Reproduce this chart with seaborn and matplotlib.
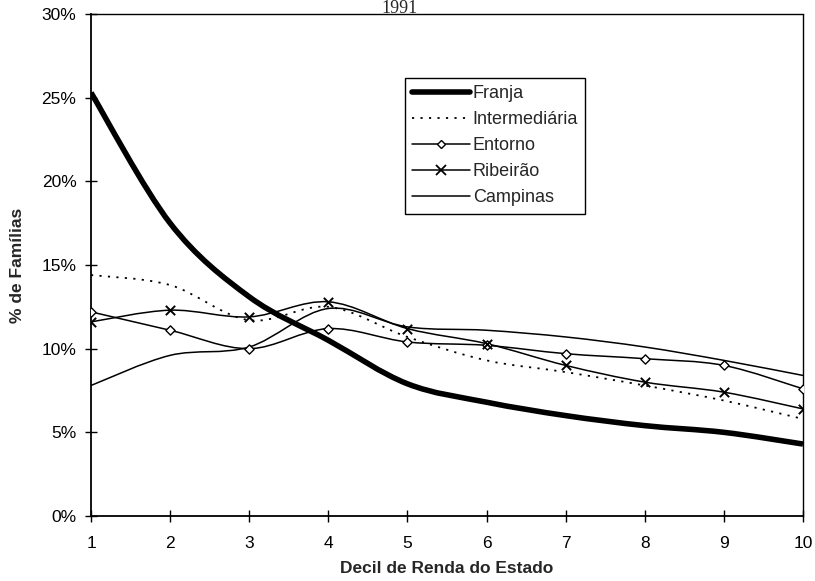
import numpy as np
import matplotlib
matplotlib.use("Agg")
import matplotlib.pyplot as plt
from matplotlib.path import Path
from matplotlib.patches import PathPatch
from matplotlib.lines import Line2D
import seaborn as sns
import pandas as pd

# ---- data (percent of families by state income decile) ----
deciles = [1, 2, 3, 4, 5, 6, 7, 8, 9, 10]
franja = [25.3, 17.5, 13.1, 10.5, 7.9, 6.8, 6.0, 5.4, 5.0, 4.3]
intermediaria = [14.4, 13.8, 11.7, 12.5, 10.7, 9.3, 8.6, 7.8, 6.9, 5.8]
entorno = [12.2, 11.1, 10.0, 11.2, 10.4, 10.2, 9.7, 9.4, 9.0, 7.6]
ribeirao = [11.6, 12.3, 11.9, 12.8, 11.2, 10.3, 9.0, 8.0, 7.4, 6.4]
campinas = [7.8, 9.6, 10.1, 12.4, 11.3, 11.1, 10.7, 10.1, 9.3, 8.4]
series_names = ["Franja", "Intermediária", "Entorno", "Ribeirão", "Campinas"]
yticks = [0, 5, 10, 15, 20, 25, 30]

sns.set_theme(style="white")
plt.rcParams["font.family"] = ["Liberation Sans", "DejaVu Sans"]

fig = plt.figure(figsize=(8.15, 5.81), dpi=100)
ax = fig.add_axes([91 / 815, 65 / 581, 712 / 815, 502 / 581])


def smooth_path(xs, ys):
    pts = np.column_stack([xs, ys]).astype(float)
    n = len(pts)
    verts = [pts[0]]
    codes = [Path.MOVETO]
    for i in range(n - 1):
        p0 = pts[i - 1] if i > 0 else pts[i]
        p1 = pts[i]
        p2 = pts[i + 1]
        p3 = pts[i + 2] if i + 2 < n else pts[i + 1]
        c1 = p1 + (p2 - p0) / 6.0
        c2 = p2 - (p3 - p1) / 6.0
        verts += [c1, c2, p2]
        codes += [Path.CURVE4] * 3
    return Path(verts, codes)


styles = {
    "Franja": dict(lw=4.0, ls="-"),
    "Intermediária": dict(lw=1.3, ls=(0, (1.2, 3.5))),
    "Entorno": dict(lw=1.1, ls="-"),
    "Ribeirão": dict(lw=1.1, ls="-"),
    "Campinas": dict(lw=1.1, ls="-"),
}
data = {
    "Franja": franja,
    "Intermediária": intermediaria,
    "Entorno": entorno,
    "Ribeirão": ribeirao,
    "Campinas": campinas,
}

for name in series_names:
    st = styles[name]
    patch = PathPatch(smooth_path(deciles, data[name]), fill=False,
                      edgecolor="black", lw=st["lw"], linestyle=st["ls"],
                      transform=ax.transData, zorder=3,
                      capstyle="butt")
    ax.add_patch(patch)

df_e = pd.DataFrame({"x": deciles, "y": entorno})
df_r = pd.DataFrame({"x": deciles, "y": ribeirao})
sns.scatterplot(data=df_e, x="x", y="y", marker="D", s=22, facecolor="white",
                edgecolor="black", linewidth=1.0, ax=ax, zorder=4)
sns.scatterplot(data=df_r, x="x", y="y", marker="x", s=45, color="black",
                linewidth=1.4, ax=ax, zorder=4)

ax.set_xlim(1, 10)
ax.set_ylim(0, 30)
ax.set_xticks(deciles)
ax.set_xticklabels([str(d) for d in deciles])
ax.set_yticks(yticks)
ax.set_yticklabels([f"{t}%" for t in yticks])
ax.tick_params(axis="both", direction="inout", length=9, width=1.0,
               color="black", labelsize=12.5, labelcolor="black")
ax.tick_params(axis="x", pad=10)
ax.tick_params(axis="y", pad=6)
ax.xaxis.set_ticks_position("bottom")
ax.yaxis.set_ticks_position("left")

for side in ["left", "bottom"]:
    ax.spines[side].set_color("black")
    ax.spines[side].set_linewidth(1.3)
for side in ["top", "right"]:
    ax.spines[side].set_color("black")
    ax.spines[side].set_linewidth(1.0)
    ax.spines[side].set_linestyle((0, (1, 1)))

ax.set_xlabel("Decil de Renda do Estado", fontsize=12.5, fontweight="bold",
              labelpad=7)
ax.set_ylabel("% de Famílias", fontsize=12.5, fontweight="bold", labelpad=12)
ax.grid(False)

fig.text(400 / 815, 1.0, "1991", ha="center", va="top",
         fontsize=13, family=["Liberation Serif", "DejaVu Serif"])

handles = [
    Line2D([], [], color="black", lw=4.0),
    Line2D([], [], color="black", lw=1.3, ls=(0, (1.2, 3.5))),
    Line2D([], [], color="black", lw=1.1, marker="D", markersize=4.5,
           markerfacecolor="white", markeredgecolor="black"),
    Line2D([], [], color="black", lw=1.1, marker="x", markersize=6.5,
           markeredgewidth=1.3),
    Line2D([], [], color="black", lw=1.1),
]
leg = ax.legend(handles, series_names, loc="upper left",
                bbox_to_anchor=((405 - 91) / 712, (516 - 78) / 502),
                fontsize=13, frameon=True, fancybox=False,
                handlelength=3.2, handletextpad=0.15, labelspacing=0.5,
                borderpad=0.4, borderaxespad=0)
leg.get_frame().set_edgecolor("black")
leg.get_frame().set_linewidth(1.0)
leg.get_frame().set_facecolor("white")
leg.get_frame().set_alpha(1.0)

fig.savefig("out.png", dpi=100)
